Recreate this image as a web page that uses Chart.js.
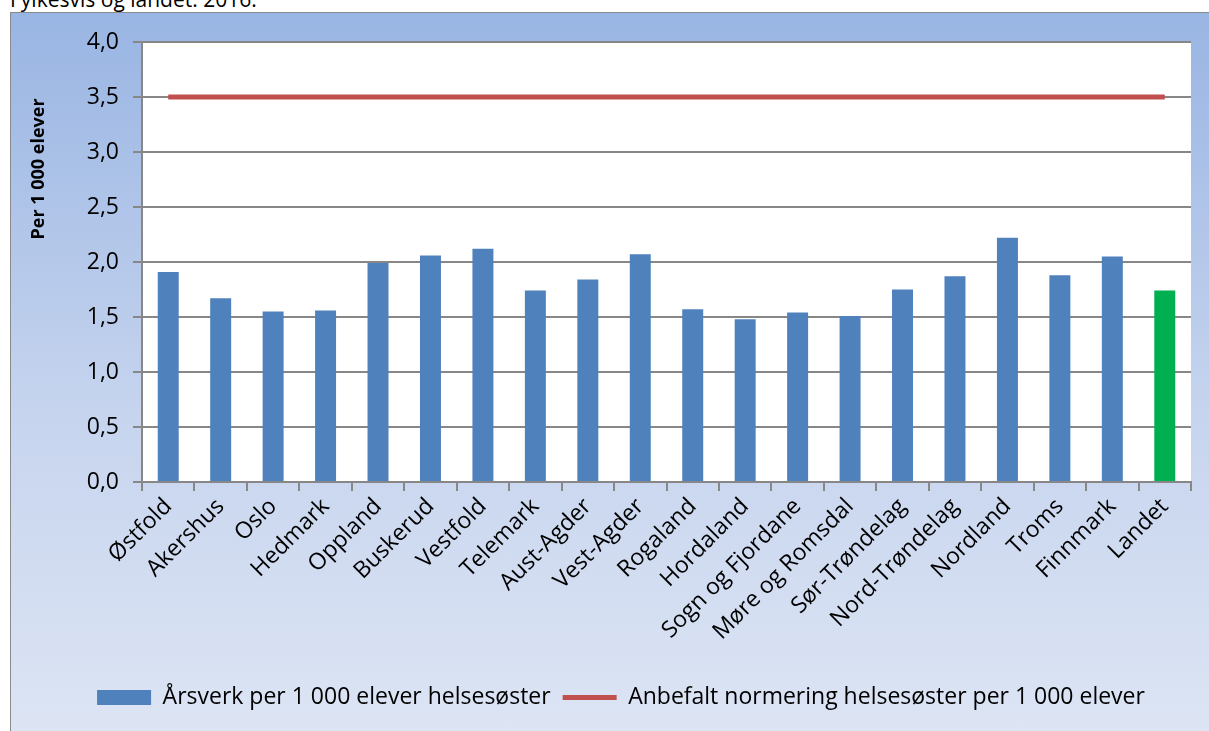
<!DOCTYPE html>
<html>
<head>
<meta charset="utf-8">
<script src="https://cdn.jsdelivr.net/npm/chart.js@4.4.0/dist/chart.umd.min.js"></script>
<style>
  body { margin: 0; background: #fff; font-family: "Open Sans", sans-serif; overflow: hidden; }
  #title { position: absolute; left: 10px; top: -15px; font-size: 21px; color: #000; white-space: nowrap; }
  #box {
    position: absolute; left: 10px; top: 12px; width: 1205px; height: 725px;
    border-left: 1px solid #8a8a8a; border-top: 1px solid #8a8a8a;
    background: linear-gradient(to bottom, #99b5e3 0%, #c6d4ee 55%, #dde5f4 100%);
  }
</style>
</head>
<body>
<div id="title">Fylkesvis og landet. 2016.</div>
<div id="box"><canvas id="chart" width="1198" height="719"></canvas></div>
<script>
const categories = ["Østfold", "Akershus", "Oslo", "Hedmark", "Oppland", "Buskerud", "Vestfold",
  "Telemark", "Aust-Agder", "Vest-Agder", "Rogaland", "Hordaland", "Sogn og Fjordane",
  "Møre og Romsdal", "Sør-Trøndelag", "Nord-Trøndelag", "Nordland", "Troms", "Finnmark", "Landet"];
const aarsverk = [1.91, 1.67, 1.55, 1.56, 1.99, 2.06, 2.12, 1.74, 1.84, 2.07,
  1.57, 1.48, 1.54, 1.51, 1.75, 1.87, 2.22, 1.88, 2.05, 1.74];
const anbefalt = [3.5, 3.5, 3.5, 3.5, 3.5, 3.5, 3.5, 3.5, 3.5, 3.5,
  3.5, 3.5, 3.5, 3.5, 3.5, 3.5, 3.5, 3.5, 3.5, 3.5];
const yTicks = [0, 0.5, 1, 1.5, 2, 2.5, 3, 3.5, 4];

const barColors = categories.map(c => c === "Landet" ? "#00b050" : "#4f81bd");
const gridGray = "#878787";

// white plot area + y-axis title placed like the original
const plotBg = {
  id: "plotBg",
  beforeDraw(chart) {
    const { ctx, chartArea: a } = chart;
    ctx.save();
    ctx.fillStyle = "#ffffff";
    ctx.fillRect(a.left, a.top, a.right - a.left, a.bottom - a.top);
    ctx.restore();
  },
  afterDraw(chart) {
    const ctx = chart.ctx;
    ctx.save();
    ctx.translate(28, 156);
    ctx.rotate(-Math.PI / 2);
    ctx.font = "bold 18px 'Open Sans', sans-serif";
    ctx.fillStyle = "#000";
    ctx.textAlign = "center";
    ctx.textBaseline = "middle";
    ctx.fillText("Per 1 000 elever", 0, 0);
    ctx.restore();
  }
};

new Chart(document.getElementById("chart").getContext("2d"), {
  type: "bar",
  data: {
    labels: categories,
    datasets: [
      {
        type: "line",
        label: "Anbefalt normering helsesøster per 1 000 elever",
        data: anbefalt,
        borderColor: "#c0504d",
        backgroundColor: "#c0504d",
        borderWidth: 5,
        pointRadius: 0,
        pointStyle: "line",
        order: 0
      },
      {
        label: "Årsverk per 1 000 elever helsesøster",
        data: aarsverk,
        backgroundColor: barColors,
        borderWidth: 0,
        pointStyle: "rect",
        categoryPercentage: 1,
        barPercentage: 0.4,
        order: 1
      }
    ]
  },
  options: {
    responsive: false,
    animation: false,
    layout: { padding: { top: 29, right: 18, left: 40, bottom: 13 } },
    plugins: {
      legend: {
        position: "bottom",
        reverse: true,
        labels: {
          color: "#000",
          font: { family: "'Open Sans', sans-serif", size: 23 },
          usePointStyle: true,
          pointStyleWidth: 54,
          boxHeight: 15,
          padding: 12
        }
      },
      tooltip: { enabled: false }
    },
    scales: {
      x: {
        afterFit: s => { s.height = 192; },
        ticks: {
          color: "#000",
          font: { family: "'Open Sans', sans-serif", size: 23 },
          minRotation: 45,
          maxRotation: 45,
          autoSkip: false,
          padding: 2
        },
        grid: { drawOnChartArea: false, color: gridGray, lineWidth: 2, tickLength: 9, offset: true },
        border: { color: gridGray, width: 2 }
      },
      y: {
        min: 0,
        max: 4,
        afterFit: s => { s.width = 91; },
        afterBuildTicks: s => { s.ticks = yTicks.map(v => ({ value: v })); },
        ticks: {
          color: "#000",
          font: { family: "'Open Sans', sans-serif", size: 23 },
          padding: 14,
          callback: v => v.toFixed(1).replace(".", ",")
        },
        grid: { color: gridGray, lineWidth: 2, tickLength: 9 },
        border: { color: gridGray, width: 2 }
      }
    }
  },
  plugins: [plotBg]
});
</script>
</body>
</html>
